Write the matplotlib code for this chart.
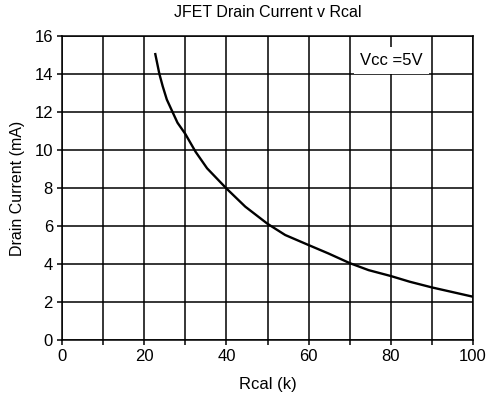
import matplotlib
matplotlib.use("Agg")
import matplotlib.pyplot as plt

# values
rcal = [22.7, 23.7, 24.5, 25.5, 26.9, 28.1, 30, 32.5, 35.3, 40, 44.6, 50,
        54.3, 60, 64.8, 70, 74.6, 80, 84.6, 90, 94.7, 100]
drain_ma = [15.05, 14.0, 13.36, 12.66, 12.0, 11.44, 10.85, 9.91, 9.04, 7.98,
            7.02, 6.12, 5.53, 5.0, 4.56, 4.05, 3.68, 3.37, 3.07, 2.77, 2.54, 2.28]

x_ticks = list(range(0, 101, 10))
x_labels = ['0', '', '20', '', '40', '', '60', '', '80', '', '100']
y_ticks = list(range(0, 17, 2))

plt.rcParams['font.family'] = ['Liberation Sans', 'DejaVu Sans']

fig = plt.figure(figsize=(4.89, 4.01), dpi=100)
ax = fig.add_axes([0.1268, 0.152, 0.8405, 0.758])

ax.plot(rcal, drain_ma, color='black', linewidth=1.7, zorder=4,
        solid_joinstyle='round')

ax.set_xlim(0, 100)
ax.set_ylim(0, 16)
ax.set_xticks(x_ticks)
ax.set_xticklabels(x_labels)
ax.set_yticks(y_ticks)
ax.grid(True, color='black', linewidth=1.1, zorder=1)
for s in ax.spines.values():
    s.set_linewidth(1.1)
ax.tick_params(direction='out', length=3.5, width=1.1, labelsize=12, pad=3)

ax.text(72.6, 14.72, 'Vcc =5V', fontsize=12, va='center', ha='left', zorder=5,
        bbox=dict(facecolor='white', edgecolor='none', pad=4.5))

ax.set_title('JFET Drain Current v Rcal', fontsize=11.5, pad=14)
ax.set_xlabel('Rcal (k)', fontsize=12, labelpad=9)
ax.set_ylabel('Drain Current (mA)', fontsize=11.5, labelpad=7)

fig.savefig('out.png', dpi=100)
